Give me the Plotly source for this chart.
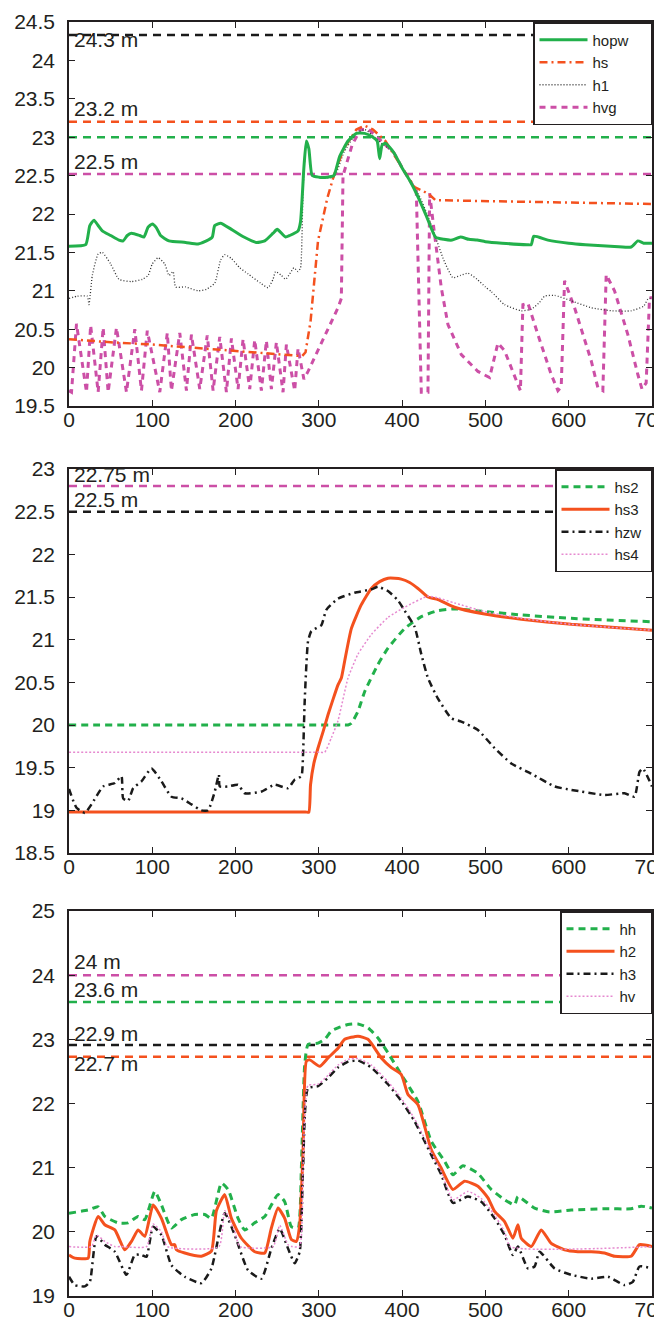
import plotly.graph_objects as go

# ---------------- Panel 1 data ----------------
hopw_x = [0,20,25,30,35,40,50,60,65,70,75,85,90,95,100,105,110,120,140,155,165,172,175,182,195,210,225,235,245,250,260,265,275,278,282,285,288,292,300,310,318,325,335,345,355,365,370,373,376,380,390,400,410,420,430,440,450,460,470,480,490,500,520,550,555,558,575,600,620,650,675,683,690,700]
hopw_y = [21.58,21.6,21.85,21.92,21.85,21.78,21.72,21.66,21.65,21.72,21.75,21.72,21.7,21.83,21.87,21.82,21.72,21.65,21.63,21.61,21.65,21.7,21.85,21.88,21.8,21.7,21.63,21.65,21.75,21.8,21.7,21.72,21.78,21.9,22.6,22.95,22.85,22.5,22.48,22.48,22.5,22.75,22.95,23.05,23.05,23.0,22.95,22.72,22.9,22.92,22.8,22.6,22.42,22.2,21.95,21.7,21.67,21.66,21.7,21.67,21.66,21.64,21.62,21.6,21.6,21.71,21.66,21.62,21.6,21.58,21.57,21.65,21.62,21.62]

hs_x = [0,50,100,150,200,250,280,284,290,299,310,318,330,345,355,365,380,400,415,425,433,440,500,600,700]
hs_y = [20.37,20.33,20.3,20.26,20.22,20.18,20.15,20.2,20.6,21.65,22.2,22.5,22.85,23.1,23.15,23.1,22.95,22.6,22.35,22.3,22.25,22.18,22.17,22.15,22.13]

h1_x = [0,10,22,24,28,35,40,50,60,75,88,95,100,107,115,120,125,128,140,155,165,175,182,187,195,205,215,230,239,245,248,255,260,265,270,275,278,281,285,288,292,300,318,330,345,355,365,375,390,400,410,420,430,440,450,461,470,479,490,500,507,523,543,555,565,571,583,603,627,651,675,690,695,700]
h1_y = [20.9,20.93,20.93,20.82,21.2,21.48,21.5,21.35,21.15,21.12,21.15,21.2,21.35,21.43,21.35,21.2,21.25,21.05,21.05,21.0,21.02,21.1,21.4,21.47,21.42,21.3,21.22,21.1,21.04,21.15,21.25,21.2,21.15,21.22,21.3,21.25,21.3,22.3,22.95,22.85,22.5,22.48,22.48,22.8,23.05,23.1,23.02,22.92,22.8,22.6,22.42,22.25,22.0,21.7,21.4,21.17,21.2,21.23,21.15,21.05,20.99,20.82,20.74,20.76,20.85,20.93,20.94,20.87,20.78,20.74,20.74,20.8,20.89,20.91]

hvg_x = [0,3,9,21,26,35,41,47,57,69,79,87,94,109,118,123,133,141,147,157,166,173,181,189,195,203,209,217,223,231,237,243,249,257,261,271,275,282,287,300,315,323,327,329,340,350,360,375,390,400,410,417,420,423,431,433,439,447,455,471,491,505,515,523,539,542,545,551,563,579,587,591,595,607,627,635,641,645,655,671,683,688,693,697,700]
hvg_y = [19.7,19.68,20.57,19.68,20.55,19.68,20.52,19.68,20.52,19.68,20.5,19.7,20.48,19.68,20.45,19.7,20.45,19.7,20.43,19.72,20.42,19.7,20.4,19.68,20.38,19.72,20.37,19.72,20.36,19.7,20.35,19.72,20.33,19.68,20.3,19.7,20.25,19.85,19.95,20.25,20.6,20.78,20.9,22.5,22.9,23.1,23.1,22.95,22.8,22.6,22.42,22.3,21.0,19.68,19.68,22.27,21.73,21.04,20.56,20.17,19.95,19.87,20.32,20.22,19.78,19.7,20.82,20.84,20.43,19.91,19.7,19.75,21.13,20.78,20.09,19.74,19.7,21.21,21.0,20.43,19.91,19.72,19.8,20.91,20.91]

ref1_vals = [24.33, 23.2, 23.0, 22.52]
ref1_labels = ["24.3 m", "23.2 m", "", "22.5 m"]
ref1_label_y = [24.27, 23.38, None, 22.68]

# ---------------- Panel 2 data ----------------
hs2_x = [0,330,335,339,347,355,371,383,403,423,443,463,499,543,603,700]
hs2_y = [20.0,20.0,20.0,20.02,20.16,20.39,20.71,20.9,21.13,21.27,21.34,21.36,21.33,21.29,21.25,21.21]

hs3_x = [0,284,288,290,294,299,305,311,317,323,327,331,339,351,363,373,383,391,399,409,419,431,443,463,499,543,603,700]
hs3_y = [18.98,18.98,18.98,19.3,19.55,19.73,19.92,20.12,20.3,20.47,20.55,20.75,21.13,21.41,21.6,21.68,21.72,21.72,21.71,21.67,21.6,21.5,21.47,21.38,21.3,21.24,21.18,21.11]

hzw_x = [0,9,19,27,41,55,63,65,71,77,87,99,111,123,135,147,159,167,175,180,181,191,203,211,231,247,263,271,279,281,283,287,291,303,309,323,343,363,371,383,395,403,415,423,431,443,459,471,491,511,531,555,583,603,643,667,679,685,689,700]
hzw_y = [19.25,19.03,18.97,19.07,19.28,19.32,19.4,19.14,19.11,19.26,19.34,19.49,19.34,19.16,19.14,19.07,19.0,19.0,19.22,19.42,19.28,19.28,19.3,19.2,19.22,19.3,19.26,19.36,19.4,19.65,20.28,20.98,21.1,21.17,21.35,21.48,21.55,21.59,21.62,21.57,21.46,21.34,21.15,20.83,20.55,20.31,20.08,20.04,19.94,19.73,19.55,19.43,19.28,19.24,19.18,19.2,19.16,19.45,19.49,19.28]

hs4_x = [0,302,307,315,323,335,347,363,383,403,431,443,463,499,543,603,700]
hs4_y = [19.68,19.68,19.68,19.85,20.05,20.55,20.83,21.06,21.26,21.38,21.51,21.49,21.43,21.33,21.25,21.18,21.11]

ref2_vals = [22.8, 22.5]
ref2_labels = ["22.75 m", "22.5 m"]
ref2_label_y = [22.93, 22.64]

# ---------------- Panel 3 data ----------------
hh_x = [0,23,35,43,59,71,83,91,103,111,123,135,151,163,171,183,191,203,211,223,235,251,259,267,275,279,283,287,299,307,315,323,335,347,359,371,383,399,419,435,451,461,473,491,507,523,535,539,559,577,603,643,675,687,700]
hh_y = [20.29,20.34,20.39,20.24,20.14,20.14,20.24,20.19,20.63,20.42,20.06,20.19,20.27,20.27,20.21,20.76,20.66,20.21,20.03,20.14,20.24,20.58,20.47,20.08,20.06,21.0,22.6,22.92,22.94,23.0,23.13,23.18,23.23,23.24,23.18,23.02,22.79,22.45,22.03,21.41,21.1,20.89,21.03,20.91,20.66,20.5,20.42,20.55,20.37,20.31,20.34,20.36,20.36,20.4,20.37]

h2_x = [0,7,23,25,35,43,55,67,75,83,91,101,111,123,127,129,139,159,171,177,187,195,207,223,235,243,251,259,267,273,277,281,285,289,301,311,323,331,347,359,375,387,399,407,419,435,447,461,475,491,503,511,523,533,539,543,555,567,579,595,611,627,643,655,675,685,700]
h2_y = [19.64,19.59,19.59,19.85,20.24,20.11,20.03,19.72,19.85,20.03,19.93,20.42,20.21,19.8,19.8,19.72,19.67,19.62,19.7,20.33,20.58,20.21,19.9,19.69,19.67,20.06,20.37,20.21,19.88,19.85,20.11,21.25,22.66,22.68,22.58,22.71,22.86,23.0,23.05,23.0,22.71,22.56,22.45,22.14,21.98,21.28,20.99,20.66,20.79,20.71,20.53,20.32,20.16,19.9,20.11,19.9,19.77,20.03,19.82,19.72,19.69,19.69,19.67,19.62,19.62,19.8,19.77]

h3_x = [0,7,19,25,33,43,55,69,79,87,93,101,111,123,139,159,171,187,199,215,231,243,253,263,271,277,281,287,299,311,323,335,347,363,383,399,415,435,447,461,479,495,511,523,533,539,551,559,565,583,603,627,647,667,677,685,700]
h3_y = [19.3,19.17,19.15,19.22,19.93,19.8,19.69,19.33,19.64,19.64,19.61,20.08,19.95,19.48,19.3,19.2,19.43,20.29,19.95,19.4,19.27,19.74,20.05,19.74,19.51,19.69,20.99,22.24,22.27,22.4,22.56,22.65,22.67,22.56,22.3,22.04,21.72,21.2,20.89,20.45,20.55,20.47,20.21,19.95,19.64,19.77,19.43,19.46,19.69,19.43,19.33,19.27,19.3,19.17,19.22,19.46,19.43]

hv_x = [0,27,33,43,55,62,93,101,111,118,180,187,199,205,245,253,263,268,277,281,287,299,311,323,335,347,363,383,399,415,435,447,461,479,495,511,523,530,700]
hv_y = [19.77,19.77,19.95,19.85,19.77,19.77,19.77,20.12,20.0,19.77,19.77,20.33,20.0,19.77,19.77,20.1,19.8,19.77,19.77,21.0,22.28,22.3,22.44,22.6,22.69,22.7,22.6,22.34,22.08,21.76,21.24,20.93,20.5,20.63,20.52,20.26,20.0,19.77,19.77]

ref3_vals = [24.0, 23.58, 22.91, 22.73]
ref3_labels = ["24 m", "23.6 m", "22.9 m", "22.7 m"]
ref3_label_y = [24.22, 23.77, 23.09, 22.62]

x_ticks = [0, 100, 200, 300, 400, 500, 600, 700]
y1_ticks = [19.5, 20, 20.5, 21, 21.5, 22, 22.5, 23, 23.5, 24, 24.5]
y2_ticks = [18.5, 19, 19.5, 20, 20.5, 21, 21.5, 22, 22.5, 23]
y3_ticks = [19, 20, 21, 22, 23, 24, 25]

# ---------------- styles ----------------
GREEN = "#22b04b"
ORANGE = "#f4511e"
BLACK = "#1a1a1a"
MAGENTA = "#cc4fa6"
PINK = "#e68ad0"
TXT = "#231f20"
FONT = "Arial, Liberation Sans, sans-serif"

fig = go.Figure()

def ref_lines(vals, colors, xa, ya):
    for v, c in zip(vals, colors):
        fig.add_trace(go.Scatter(x=[0, 700], y=[v, v], mode="lines", xaxis=xa, yaxis=ya,
                                 line=dict(color=c, width=2.5, dash="8px,6px"),
                                 showlegend=False, hoverinfo="skip"))

SM = dict(shape="spline", smoothing=0.5)
PAD = "\u00a0\u00a0\u00a0\u00a0"

# Panel 1
ref_lines(ref1_vals, [BLACK, ORANGE, GREEN, MAGENTA], "x", "y")
fig.add_trace(go.Scatter(x=hvg_x, y=hvg_y, mode="lines", name="hvg" + PAD, legend="legend",
                         line=dict(color=MAGENTA, width=3, dash="6px,5px")))
fig.add_trace(go.Scatter(x=h1_x, y=h1_y, mode="lines", name="h1", legend="legend",
                         line=dict(color="#333333", width=1.3, dash="1px,2px", **SM)))
fig.add_trace(go.Scatter(x=hs_x, y=hs_y, mode="lines", name="hs", legend="legend",
                         line=dict(color=ORANGE, width=2.5, dash="8px,4px,2px,4px")))
fig.add_trace(go.Scatter(x=hopw_x, y=hopw_y, mode="lines", name="hopw" + PAD, legend="legend",
                         line=dict(color=GREEN, width=3, **SM)))

# Panel 2
ref_lines(ref2_vals, [MAGENTA, BLACK], "x2", "y2")
fig.add_trace(go.Scatter(x=hs2_x, y=hs2_y, mode="lines", name="hs2", legend="legend2", xaxis="x2", yaxis="y2",
                         line=dict(color=GREEN, width=3, dash="7px,5px", **SM)))
fig.add_trace(go.Scatter(x=hs3_x, y=hs3_y, mode="lines", name="hs3", legend="legend2", xaxis="x2", yaxis="y2",
                         line=dict(color=ORANGE, width=3, **SM)))
fig.add_trace(go.Scatter(x=hzw_x, y=hzw_y, mode="lines", name="hzw" + "\u00a0", legend="legend2", xaxis="x2", yaxis="y2",
                         line=dict(color=BLACK, width=2.5, dash="7px,4px,2px,4px", **SM)))
fig.add_trace(go.Scatter(x=hs4_x, y=hs4_y, mode="lines", name="hs4", legend="legend2", xaxis="x2", yaxis="y2",
                         line=dict(color=PINK, width=1.5, dash="2px,2px", **SM)))

# Panel 3
ref_lines(ref3_vals, [MAGENTA, GREEN, BLACK, ORANGE], "x3", "y3")
fig.add_trace(go.Scatter(x=hh_x, y=hh_y, mode="lines", name="hh" + "\u00a0\u00a0", legend="legend3", xaxis="x3", yaxis="y3",
                         line=dict(color=GREEN, width=3, dash="7px,5px", **SM)))
fig.add_trace(go.Scatter(x=h2_x, y=h2_y, mode="lines", name="h2", legend="legend3", xaxis="x3", yaxis="y3",
                         line=dict(color=ORANGE, width=3, **SM)))
fig.add_trace(go.Scatter(x=h3_x, y=h3_y, mode="lines", name="h3", legend="legend3", xaxis="x3", yaxis="y3",
                         line=dict(color=BLACK, width=2.5, dash="7px,4px,2px,4px", **SM)))
fig.add_trace(go.Scatter(x=hv_x, y=hv_y, mode="lines", name="hv", legend="legend3", xaxis="x3", yaxis="y3",
                         line=dict(color=PINK, width=1.5, dash="2px,2px", **SM)))

annotations = []
for labels, ys, xr, yr in [(ref1_labels, ref1_label_y, "x", "y"),
                           (ref2_labels, ref2_label_y, "x2", "y2"),
                           (ref3_labels, ref3_label_y, "x3", "y3")]:
    for t, yv in zip(labels, ys):
        if t:
            annotations.append(dict(x=4, y=yv, xref=xr, yref=yr, text=t, showarrow=False,
                                    xanchor="left", yanchor="middle",
                                    font=dict(size=21, color=TXT, family=FONT)))

axis_common = dict(showline=True, linecolor=TXT, linewidth=1.5, mirror="ticks", ticks="inside",
                   ticklen=6, tickcolor=TXT, tickwidth=1.2, showgrid=False, zeroline=False,
                   automargin=False,
                   tickfont=dict(size=21, color=TXT, family=FONT))
xax = dict(domain=[0, 1], range=[0, 700], tickvals=x_ticks, ticklabelstandoff=-6, **axis_common)
yax = dict(ticklabelstandoff=8, **axis_common)

H = 1319
t_m, b_m = 14, 31
ph = H - t_m - b_m
def dom(top_px, bot_px):
    return [1 - (bot_px - t_m) / ph, 1 - (top_px - t_m) / ph]

d1 = dom(14, 398)
d2 = dom(461, 845)
d3 = dom(903, 1288)

legend_common = dict(x=1.0, xanchor="right", bgcolor="white", bordercolor=TXT, borderwidth=1.5,
                     font=dict(size=15, color=TXT, family=FONT),
                     tracegroupgap=0, itemwidth=48)

fig.update_layout(
    width=662, height=H,
    margin=dict(l=61, r=18, t=t_m, b=b_m, autoexpand=False),
    paper_bgcolor="white", plot_bgcolor="white",
    showlegend=True,
    xaxis=dict(anchor="y", **xax),
    yaxis=dict(domain=d1, range=[19.5, 24.5], tickvals=y1_ticks, anchor="x", **yax),
    xaxis2=dict(anchor="y2", **xax),
    yaxis2=dict(domain=d2, range=[18.5, 23], tickvals=y2_ticks, anchor="x2", **yax),
    xaxis3=dict(anchor="y3", **xax),
    yaxis3=dict(domain=d3, range=[19, 25], tickvals=y3_ticks, anchor="x3", **yax),
    legend=dict(y=d1[1], yanchor="top", traceorder="reversed", **legend_common),
    legend2=dict(y=d2[1], yanchor="top", traceorder="normal", **legend_common),
    legend3=dict(y=d3[1], yanchor="top", traceorder="normal", **legend_common),
    annotations=annotations,
)

fig.write_html("out.html")
